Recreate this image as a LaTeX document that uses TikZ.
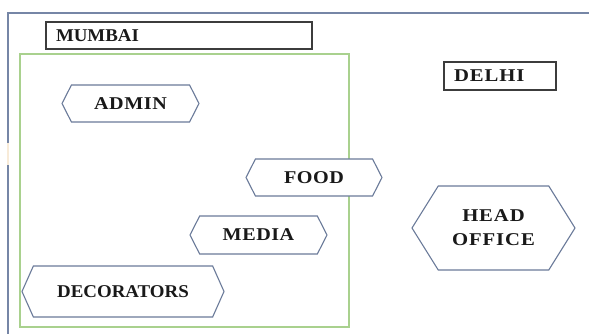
\documentclass[tikz,border=0pt]{standalone}
\usepackage{fontspec}
\setmainfont{Liberation Serif}
\newfontfamily\tightfont[FakeStretch=1.05]{Liberation Serif}
\newfontfamily\deptfont[FakeStretch=1.12,LetterSpace=3]{Liberation Serif}
\newfontfamily\widefont[FakeStretch=1.15,LetterSpace=5]{Liberation Serif}
\usetikzlibrary{shapes.symbols}
\definecolor{framegray}{HTML}{7686A6}
\definecolor{hexblue}{HTML}{6A7A99}
\definecolor{boxgray}{HTML}{3C3C3C}
\definecolor{zonegreen}{HTML}{A9D18E}
\definecolor{gapbeige}{HTML}{F8EBD8}
\newcommand{\labelsize}{\bfseries\fontsize{18}{20}\selectfont}
\tikzstyle{dept}=[shape=signal,signal to=east and west,signal pointer angle=126,draw=hexblue,line width=1.1pt,fill=white,inner sep=0pt,text=black!90,font=\deptfont\labelsize]
\tikzstyle{city}=[rectangle,draw=boxgray,line width=1.1pt,align=left,inner xsep=10pt,inner ysep=0pt,text=black!90,font=\widefont\labelsize]

\begin{document}
\begin{tikzpicture}[x=1pt,y=-1pt]
        \useasboundingbox (0,0) rectangle (589,334);
        % outer frame
        \draw[framegray,line width=2pt] (8,340) -- (8,13) -- (595,13);
        \draw[gapbeige,line width=2.2pt] (8,143) -- (8,165);
        % mumbai zone
        \draw[zonegreen,line width=1.2pt] (20,54) rectangle (349,327);
        \node[city,minimum width=266pt,minimum height=27pt,text width=246pt,font=\tightfont\labelsize] (mumbai) at (179,35.5) {MUMBAI};
        \node[city,minimum width=112pt,minimum height=28pt,text width=92pt] (delhi) at (500,76) {DELHI};
        % departments
        \node[dept,minimum width=137pt,minimum height=37pt] (admin) at (130.5,103.5) {ADMIN};
        \node[dept,minimum width=136pt,minimum height=37pt] (food) at (314,177.5) {FOOD};
        \node[dept,minimum width=137pt,minimum height=38pt] (media) at (258.5,235) {MEDIA};
        \node[dept,minimum width=202pt,minimum height=51pt,signal pointer angle=132,font=\tightfont\labelsize] (decorators) at (123,291.5) {DECORATORS};
        \node[dept,minimum width=163pt,minimum height=84pt,signal pointer angle=116,align=center,font=\widefont\bfseries\fontsize{18}{24}\selectfont] (head) at (493.5,228) {HEAD\\OFFICE};
    \end{tikzpicture}
\end{document}
